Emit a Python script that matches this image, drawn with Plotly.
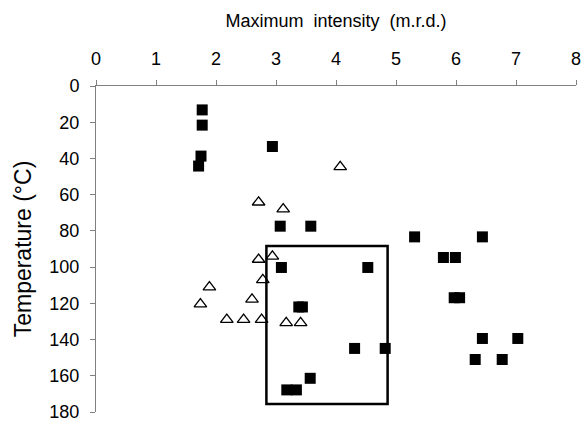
import plotly.graph_objects as go

# Filled squares
sq_x = [1.77, 1.77, 1.75, 1.71, 2.94, 3.07, 3.58, 3.09, 4.53, 3.38, 3.44, 4.31, 4.82,
        3.18, 3.34, 3.57, 5.31, 6.44, 5.79, 5.99, 5.97, 6.06, 6.44, 7.03, 6.32, 6.77]
sq_y = [13.2, 21.6, 38.7, 44.2, 33.4, 77.4, 77.4, 100.2, 100.2, 122, 122, 144.9, 144.9,
        167.8, 167.8, 161.4, 83.3, 83.3, 94.7, 94.7, 116.9, 116.9, 139.4, 139.4, 151, 151]

# Open triangles
tr_x = [4.07, 2.71, 3.12, 2.71, 2.94, 2.78, 1.89, 1.74, 2.60, 2.18, 2.46, 2.76, 3.17, 3.41]
tr_y = [44.6, 64.2, 68.0, 95.8, 94.1, 107, 111, 120.4, 117.8, 129, 129, 129, 130.8, 130.8]

# Highlight box (data units)
box_x = [2.84, 4.86]
box_y = [88.4, 175.6]

x_ticks = [0, 1, 2, 3, 4, 5, 6, 7, 8]
y_ticks = [0, 20, 40, 60, 80, 100, 120, 140, 160, 180]

fig = go.Figure()
fig.add_trace(go.Scatter(x=sq_x, y=sq_y, mode="markers",
                         marker=dict(symbol="square", size=11, color="black",
                                     line=dict(width=0)),
                         showlegend=False, cliponaxis=False))
fig.add_trace(go.Scatter(x=tr_x, y=tr_y, mode="markers",
                         marker=dict(symbol="triangle-up-open", size=11, color="black",
                                     line=dict(width=1.3)),
                         showlegend=False, cliponaxis=False))
fig.add_shape(type="rect", x0=box_x[0], x1=box_x[1], y0=box_y[0], y1=box_y[1],
              xref="x", yref="y", line=dict(color="black", width=2.5))

font = "Liberation Sans, Arial, sans-serif"
fig.update_layout(
    width=584, height=421,
    margin=dict(l=96, r=8, t=86, b=9, autoexpand=False),
    plot_bgcolor="white", paper_bgcolor="white",
    font=dict(family=font, color="black", size=18),
    xaxis=dict(side="top", range=[0, 8], tickvals=x_ticks, showgrid=False, zeroline=False,
               showline=True, linecolor="#808080", linewidth=1, automargin=False,
               ticks="outside", ticklen=5, tickcolor="#808080",
               tickfont=dict(size=18), ticklabelstandoff=8, ticklabeloverflow="allow",
               title=dict(text="Maximum  intensity  (m.r.d.)", font=dict(size=18), standoff=16)),
    yaxis=dict(range=[180, 0], tickvals=y_ticks, showgrid=False, zeroline=False,
               showline=True, linecolor="#808080", linewidth=1, automargin=False,
               ticks="outside", ticklen=5, tickcolor="#808080",
               tickfont=dict(size=18), ticklabelstandoff=7, ticklabeloverflow="allow",
               title=dict(text="Temperature (°C)", font=dict(size=23), standoff=11)),
)
# remove the default page margin so the 584x421 figure fills the window exactly
fig.write_html("out.html", config={"displayModeBar": False},
               post_script="document.body.style.margin='0';document.body.style.overflow='hidden';")
